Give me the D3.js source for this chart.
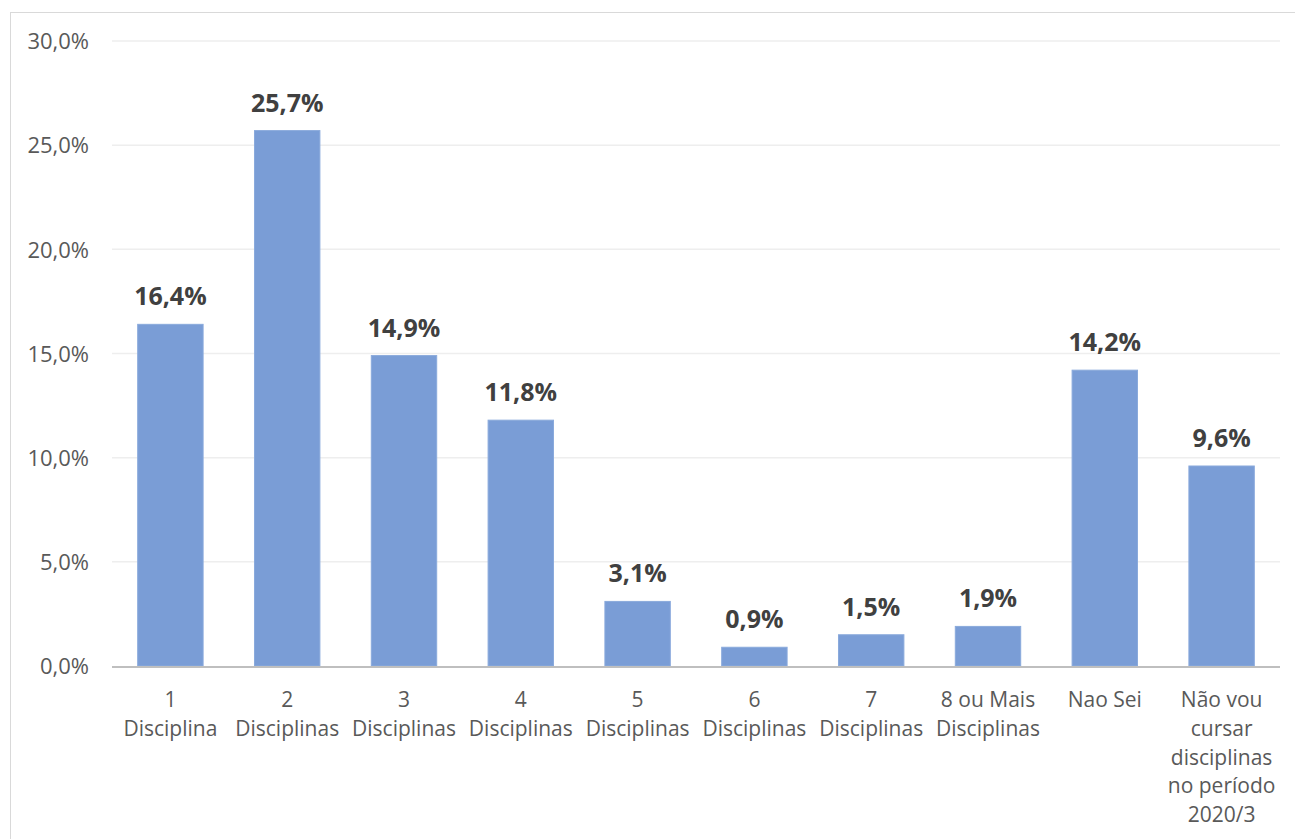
<!DOCTYPE html>
<html>
<head>
<meta charset="utf-8">
<script src="https://cdn.jsdelivr.net/npm/d3@7"></script>
<style>
  html, body { margin: 0; padding: 0; background: #fff; }
  svg { display: block; font-family: "Open Sans", sans-serif; }
</style>
</head>
<body>
<svg id="chart" width="1295" height="839"></svg>
<script>
const categories = [
  "1\nDisciplina",
  "2\nDisciplinas",
  "3\nDisciplinas",
  "4\nDisciplinas",
  "5\nDisciplinas",
  "6\nDisciplinas",
  "7\nDisciplinas",
  "8 ou Mais\nDisciplinas",
  "Nao Sei",
  "Não vou\ncursar\ndisciplinas\nno período\n2020/3"
];
const values = [16.4, 25.7, 14.9, 11.8, 3.1, 0.9, 1.5, 1.9, 14.2, 9.6];
const yTicks = [0, 5, 10, 15, 20, 25, 30];

const svg = d3.select("#chart");
const fmt = v => d3.format(".1f")(v).replace(".", ",") + "%";

// outer border
svg.append("rect")
  .attr("x", 10.5).attr("y", 12.5)
  .attr("width", 1400).attr("height", 1000)
  .attr("fill", "none").attr("stroke", "#D9D9D9").attr("stroke-width", 1);

const x = d3.scaleBand().domain(categories).range([112, 1280])
  .paddingInner(0.44).paddingOuter(0.22);
const y = d3.scaleLinear().domain([0, 30]).range([666, 41]);

// gridlines
svg.append("g").selectAll("line").data(yTicks.filter(t => t > 0)).join("line")
  .attr("x1", 112).attr("x2", 1280)
  .attr("y1", d => y(d)).attr("y2", d => y(d))
  .attr("stroke", "#EEEEEE").attr("stroke-width", 1.5);

// y axis labels
const yAxis = d3.axisLeft(y).tickValues(yTicks).tickSize(0).tickPadding(0)
  .tickFormat(fmt);
const gy = svg.append("g").attr("transform", "translate(89,0)").call(yAxis);
gy.select(".domain").remove();
gy.selectAll("text")
  .attr("fill", "#595959")
  .style("font-family", '"Open Sans", sans-serif')
  .style("font-size", "22px")
  .attr("dy", "0.35em");

// bars
svg.append("g").selectAll("rect").data(values).join("rect")
  .attr("x", (d, i) => x(categories[i]))
  .attr("y", d => y(d))
  .attr("width", x.bandwidth())
  .attr("height", d => y(0) - y(d))
  .attr("fill", "#7A9DD6")
  .attr("stroke", "#8AAADC").attr("stroke-width", 1);

// data labels
svg.append("g").selectAll("text").data(values).join("text")
  .attr("x", (d, i) => x(categories[i]) + x.bandwidth() / 2)
  .attr("y", d => y(d) - 19)
  .attr("text-anchor", "middle")
  .attr("fill", "#404040")
  .style("font-weight", "bold")
  .style("font-size", "25px")
  .text(d => fmt(d));

// x axis line
svg.append("line")
  .attr("x1", 112).attr("x2", 1280)
  .attr("y1", y(0) + 1).attr("y2", y(0) + 1)
  .attr("stroke", "#BFBFBF").attr("stroke-width", 2);

// category labels
const xAxis = d3.axisBottom(x).tickSize(0).tickFormat("");
const gx = svg.append("g").attr("transform", `translate(0,${y(0)})`).call(xAxis);
gx.select(".domain").remove();
gx.selectAll(".tick").each(function(d) {
  const t = d3.select(this).append("text")
    .attr("text-anchor", "middle")
    .attr("fill", "#595959")
    .style("font-size", "21px")
    .style("font-family", '"Open Sans", sans-serif');
  d.split("\n").forEach((line, i) => {
    t.append("tspan").attr("x", 0).attr("y", 41 + i * 28.8).text(line);
  });
});
</script>
</body>
</html>
